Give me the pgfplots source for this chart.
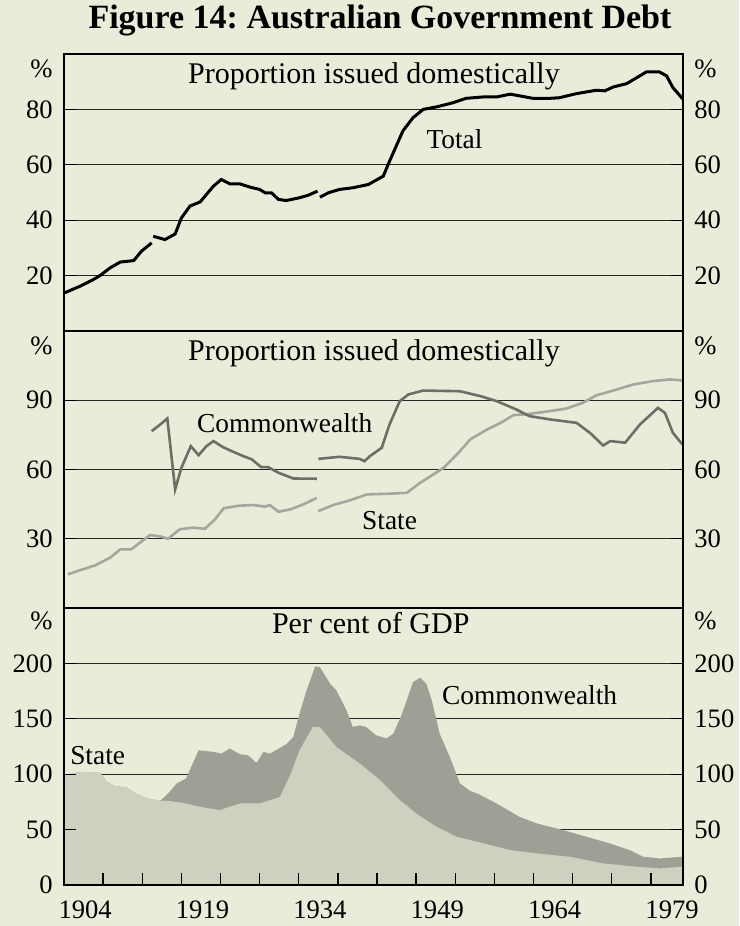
\documentclass[border=0pt]{standalone}
\usepackage{fontspec}
\setmainfont{Liberation Serif}
\usepackage{pgfplots}
\pgfplotsset{compat=1.18}
\definecolor{bg}{RGB}{233,236,217}
\definecolor{stfill}{RGB}{205,209,192}
\definecolor{cwfill}{RGB}{158,160,150}
\definecolor{cwline}{RGB}{110,110,104}
\definecolor{stline}{RGB}{165,166,158}
\pgfplotsset{
  base/.style={scale only axis, width=309.5pt, height=138.5pt, anchor=south west,
    xmin=1901.3, xmax=1980.4,
    axis line style={line width=0.9pt},
    tick style={black, line width=0.6pt},
    major tick length=6pt,
    tick label style={font=\fontsize{13.3}{16}\selectfont},
    /pgf/number format/assume math mode=true,
    clip mode=individual},
  panelL/.style={base, ymajorgrids, grid style={line width=0.6pt, black!85},
    yticklabel style={inner sep=0pt, xshift=-5.5pt}},
  panelR/.style={base, yticklabel pos=right,
    yticklabel style={inner sep=0pt, xshift=5.5pt}},
}
\tikzset{
  lab/.style={font=\fontsize{13.7}{16}\selectfont, inner sep=0pt},
  ptitle/.style={font=\fontsize{15}{18}\selectfont, inner sep=0pt},
  pct/.style={inner sep=0pt, font=\fontsize{13.3}{16}\selectfont},
}
\begin{document}
\frenchspacing
\begin{tikzpicture}
\path[use as bounding box, fill=bg] (0pt,0pt) rectangle (369.5pt,463pt);
\node[anchor=base, font=\fontsize{17}{20}\bfseries\selectfont, inner sep=0pt] at (190pt,448.5pt) {Figure 14: Australian Government Debt};

% ---------- Panel 1 ----------
\begin{axis}[panelL, at={(32pt,297.5pt)}, ymin=0, ymax=100, ytick={20,40,60,80}, xtick=\empty]
\addplot[black, line width=1.5pt] coordinates {(1901.3,13.7) (1903.3,16.1) (1905.0,18.5) (1905.9,20.0) (1907.2,22.8) (1908.5,24.9) (1910.2,25.4) (1911.2,28.8) (1912.5,31.8)};
\addplot[black, line width=1.5pt] coordinates {(1912.7,34.2) (1914.2,33.0) (1915.5,35.0) (1916.3,40.8) (1917.4,45.1) (1918.7,46.6) (1920.4,52.3) (1921.4,54.7) (1922.5,53.1) (1923.8,53.1) (1925.1,51.9) (1926.3,51.1) (1927.0,49.9) (1927.8,49.9) (1928.7,47.5) (1929.7,47.1) (1931.4,48.1) (1932.5,49.0) (1933.7,50.5)};
\addplot[black, line width=1.5pt] coordinates {(1934.0,48.3) (1935.1,49.9) (1936.5,51.1) (1938.2,51.7) (1940.2,52.9) (1942.1,55.9) (1942.9,61.3) (1944.6,72.2) (1945.9,77.0) (1947.2,80.0) (1948.9,80.9) (1951.0,82.4) (1952.7,84.0) (1954.9,84.5) (1956.6,84.5) (1958.3,85.5) (1959.5,84.9) (1961.2,84.0) (1963.4,84.0) (1964.6,84.2) (1966.8,85.7) (1969.3,86.9) (1970.4,86.7) (1971.5,88.1) (1973.2,89.3) (1974.4,91.3) (1975.7,93.5) (1977.4,93.5) (1978.3,92.1) (1979.1,87.9) (1980.4,83.7)};
\node[ptitle] at (axis cs:1940.9,92.1) {Proportion issued domestically};
\node[lab] at (axis cs:1951.2,69.3) {Total};
\node[pct, anchor=east, xshift=-5.5pt, yshift=-7.5pt] at (rel axis cs:0,1) {\%};
\node[pct, anchor=west, xshift=5.5pt, yshift=-7.5pt] at (rel axis cs:1,1) {\%};
\end{axis}
\begin{axis}[panelR, at={(32pt,297.5pt)}, ymin=0, ymax=100, ytick={20,40,60,80}, xtick=\empty]
\end{axis}

% ---------- Panel 2 ----------
\begin{axis}[panelL, at={(32pt,159pt)}, ymin=0, ymax=120, ytick={30,60,90}, xtick=\empty]
\addplot[stline, line width=1.3pt] coordinates {(1901.8,14.6) (1903.3,16.3) (1905.3,18.5) (1907.2,21.8) (1908.5,25.4) (1909.9,25.4) (1911.0,28.3) (1912.3,31.6) (1913.6,31.0) (1914.6,30.0) (1916.1,34.1) (1917.8,34.8) (1919.3,34.3) (1920.6,38.4) (1921.7,43.2) (1923.6,44.3) (1925.5,44.6) (1927.0,43.9) (1927.6,44.6) (1928.7,41.7) (1930.2,42.7) (1931.9,44.9) (1933.6,47.7)};
\addplot[stline, line width=1.3pt] coordinates {(1933.8,42.0) (1935.7,44.6) (1937.8,46.6) (1940.0,49.2) (1942.9,49.5) (1945.1,49.9) (1946.8,54.2) (1949.8,60.7) (1951.7,67.2) (1953.2,73.0) (1955.4,77.4) (1957.1,80.2) (1958.7,83.5) (1960.8,84.1) (1963.4,85.3) (1965.5,86.4) (1967.6,88.9) (1969.3,92.1) (1971.5,94.2) (1974.0,96.8) (1976.6,98.3) (1978.7,99.0) (1980.3,98.6)};
\addplot[cwline, line width=1.3pt] coordinates {(1912.5,76.6) (1913.6,79.5) (1914.5,82.1) (1915.5,51.4) (1916.3,60.7) (1917.5,70.1) (1918.5,66.2) (1919.5,70.1) (1920.4,72.3) (1921.6,69.7) (1922.7,68.0) (1924.2,65.8) (1925.3,64.4) (1926.5,61.0) (1927.4,61.0) (1928.7,58.6) (1930.6,56.1) (1933.6,56.0)};
\addplot[cwline, line width=1.3pt] coordinates {(1933.8,64.6) (1936.5,65.5) (1939.1,64.6) (1939.7,63.6) (1940.4,65.8) (1941.9,69.4) (1942.9,79.5) (1944.2,89.6) (1945.3,92.5) (1947.2,94.2) (1951.9,93.9) (1954.5,91.8) (1956.6,89.6) (1959.1,86.0) (1960.8,83.1) (1963.4,81.7) (1966.8,80.2) (1968.5,75.9) (1970.2,70.4) (1971.1,72.3) (1973.0,71.6) (1974.9,79.5) (1977.2,86.7) (1978.1,84.5) (1979.1,75.9) (1980.3,70.9)};
\node[ptitle] at (axis cs:1940.9,110.4) {Proportion issued domestically};
\node[lab] at (axis cs:1929.5,80.1) {Commonwealth};
\node[lab] at (axis cs:1942.9,37.7) {State};
\node[pct, anchor=east, xshift=-5.5pt, yshift=-7.5pt] at (rel axis cs:0,1) {\%};
\node[pct, anchor=west, xshift=5.5pt, yshift=-7.5pt] at (rel axis cs:1,1) {\%};
\end{axis}
\begin{axis}[panelR, at={(32pt,159pt)}, ymin=0, ymax=120, ytick={30,60,90}, xtick=\empty]
\end{axis}

% ---------- Panel 3 ----------
\begin{axis}[panelL, at={(32pt,20.5pt)}, ymin=0, ymax=250, ytick={0,50,100,150,200}, xtick=\empty]
\addplot[fill=cwfill, draw=none] coordinates {(1901.3,99.1) (1903.3,102.1) (1905.9,101.2) (1906.8,93.1) (1907.8,89.2) (1909.3,88.0) (1910.6,82.0) (1911.9,78.1) (1913.6,76.0) (1914.6,82.6) (1915.7,91.6) (1916.9,96.1) (1918.5,121.6) (1920.4,120.1) (1921.4,118.6) (1922.5,123.2) (1923.8,118.0) (1924.8,117.1) (1925.9,110.2) (1926.8,120.1) (1927.6,118.6) (1928.5,122.2) (1929.7,127.0) (1930.6,133.6) (1931.4,154.7) (1932.3,175.7) (1933.4,197.3) (1934.0,196.7) (1935.3,181.7) (1936.1,175.7) (1937.4,157.7) (1938.2,142.6) (1939.1,144.1) (1939.9,142.6) (1941.2,135.1) (1942.5,132.2) (1943.4,136.7) (1944.5,154.7) (1945.9,183.2) (1946.8,187.1) (1947.6,181.7) (1948.3,166.7) (1949.3,136.7) (1950.6,115.6) (1951.9,91.6) (1953.2,85.0) (1954.4,81.6) (1956.6,73.5) (1959.5,61.5) (1961.7,55.6) (1965.1,49.5) (1968.1,43.5) (1971.0,37.6) (1973.6,31.5) (1975.3,25.5) (1977.4,24.0) (1980.4,25.5)} \closedcycle;
\addplot[fill=stfill, draw=none] coordinates {(1901.3,99.1) (1903.3,102.1) (1905.9,101.2) (1906.8,93.1) (1907.8,89.2) (1909.3,88.0) (1910.6,82.0) (1911.9,78.1) (1913.6,76.0) (1914.6,76.0) (1916.9,73.6) (1918.7,70.5) (1921.2,67.6) (1923.8,73.6) (1926.3,73.6) (1928.9,79.5) (1930.2,99.1) (1931.4,121.6) (1933.1,142.6) (1934.0,142.6) (1936.1,124.6) (1939.1,109.6) (1941.7,94.6) (1944.2,76.6) (1946.3,64.6) (1948.9,52.5) (1951.5,43.5) (1954.9,37.6) (1958.3,31.5) (1961.7,28.5) (1965.9,25.5) (1970.2,19.5) (1974.4,16.5) (1977.4,15.0) (1980.4,16.5)} \closedcycle;
\node[ptitle] at (axis cs:1940.5,236) {Per cent of GDP};
\node[lab] at (axis cs:1960.8,171.2) {Commonwealth};
\node[lab] at (axis cs:1905.6,117.1) {State};
\node[pct, anchor=east, xshift=-5.5pt, yshift=-6.5pt] at (rel axis cs:0,1) {\%};
\node[pct, anchor=west, xshift=5.5pt, yshift=-6.5pt] at (rel axis cs:1,1) {\%};
\end{axis}
% right labels, frame and the short year marks on top
\begin{axis}[panelR, at={(32pt,20.5pt)}, ymin=0, ymax=250, ytick={0,50,100,150,200}, xtick=\empty]
\addplot[ycomb, black, line width=0.7pt, no markers] coordinates {(1906.3,10.8) (1911.3,10.8) (1916.3,10.8) (1921.3,10.8) (1926.3,10.8) (1931.3,10.8) (1936.3,10.8) (1941.3,10.8) (1946.3,10.8) (1951.3,10.8) (1956.3,10.8) (1961.3,10.8) (1966.3,10.8) (1971.3,10.8) (1976.3,10.8)};
\end{axis}
% year labels
\begin{axis}[base, at={(32pt,20.5pt)}, ymin=0, ymax=250, ytick=\empty,
  axis line style={draw=none},
  xtick={1904,1919,1934,1949,1964,1979},
  xticklabels={1904,1919,1934,1949,1964,1979},
  xtick pos=left, major tick length=0pt,
  xticklabel style={yshift=-4.5pt}]
\end{axis}
\end{tikzpicture}
\end{document}
